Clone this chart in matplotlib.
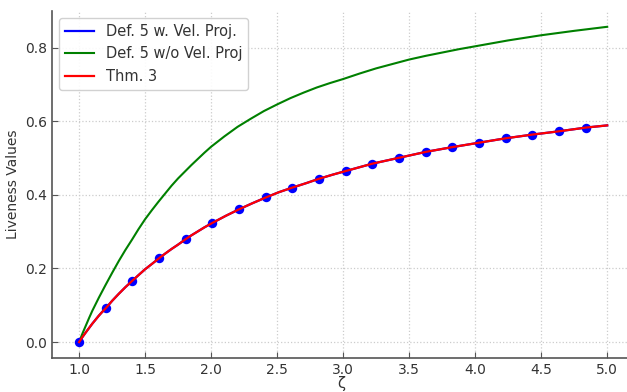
import matplotlib
matplotlib.use("Agg")
import matplotlib.pyplot as plt

# Sampled points (dots) for Def. 5 with velocity projection
zeta_dots = [1.000, 1.202, 1.404, 1.606, 1.808, 2.010, 2.212, 2.414, 2.616, 2.818,
             3.020, 3.222, 3.424, 3.626, 3.828, 4.030, 4.232, 4.434, 4.636, 4.838]
live_proj = [0.000, 0.092, 0.167, 0.228, 0.280, 0.324, 0.361, 0.393, 0.420, 0.444,
             0.465, 0.485, 0.501, 0.517, 0.530, 0.542, 0.554, 0.564, 0.573, 0.583]

# Thm. 3 curve
zeta_thm = [1.000, 1.025, 1.05, 1.075, 1.10, 1.125, 1.15, 1.175, 1.202, 1.25, 1.30, 1.35, 1.404,
            1.45, 1.50, 1.55, 1.606, 1.65, 1.70, 1.75, 1.808, 1.85, 1.90, 1.95, 2.010,
            2.11, 2.212, 2.31, 2.414, 2.51, 2.616, 2.72, 2.818, 2.92, 3.020, 3.222, 3.424,
            3.626, 3.828, 4.030, 4.232, 4.434, 4.636, 4.838, 5.000]
live_thm = [0.000, 0.0135, 0.026, 0.038, 0.050, 0.061, 0.072, 0.082, 0.092, 0.112, 0.131, 0.149, 0.167,
            0.182, 0.198, 0.212, 0.228, 0.240, 0.253, 0.265, 0.280, 0.290, 0.301, 0.312, 0.324,
            0.343, 0.361, 0.377, 0.393, 0.407, 0.420, 0.432, 0.444, 0.455, 0.465, 0.485, 0.501,
            0.517, 0.530, 0.542, 0.554, 0.564, 0.573, 0.583, 0.589]

# Def. 5 without velocity projection
zeta_noproj = [1.0, 1.025, 1.05, 1.075, 1.1, 1.125, 1.15, 1.175, 1.2, 1.25, 1.3, 1.35, 1.4, 1.45,
               1.5, 1.55, 1.6, 1.65, 1.7, 1.75, 1.8, 1.85, 1.9, 1.95, 2.0, 2.1, 2.2, 2.3, 2.4,
               2.5, 2.6, 2.7, 2.8, 2.9, 3.0, 3.125, 3.25, 3.375, 3.5, 3.625, 3.75, 3.875, 4.0,
               4.25, 4.5, 4.75, 5.0]
live_noproj = [0.000, 0.023, 0.044, 0.065, 0.085, 0.103, 0.121, 0.138, 0.155, 0.188, 0.220, 0.250,
               0.278, 0.307, 0.334, 0.358, 0.381, 0.403, 0.425, 0.445, 0.463, 0.481, 0.498, 0.515,
               0.531, 0.559, 0.585, 0.607, 0.628, 0.646, 0.663, 0.678, 0.692, 0.704, 0.715, 0.730,
               0.744, 0.756, 0.768, 0.778, 0.787, 0.796, 0.804, 0.820, 0.834, 0.846, 0.857]

plt.rcParams['font.family'] = ['DejaVu Sans']
fig = plt.figure(figsize=(6.27, 3.92), dpi=100)
ax = fig.add_axes([0.083, 0.087, 0.917, 0.885])

ax.plot(zeta_thm, live_thm, color='blue', lw=1.6, label='Def. 5 w. Vel. Proj.', zorder=2)
ax.scatter(zeta_dots, live_proj, color='blue', s=46, zorder=3, linewidths=0)
ax.plot(zeta_noproj, live_noproj, color='green', lw=1.5, label='Def. 5 w/o Vel. Proj', zorder=2)
ax.plot(zeta_thm, live_thm, color='red', lw=1.6, label='Thm. 3', zorder=4)

ax.set_xlim(0.795, 5.15)
ax.set_ylim(-0.043, 0.9)
ax.set_xticks([1.0, 1.5, 2.0, 2.5, 3.0, 3.5, 4.0, 4.5, 5.0])
ax.set_yticks([0.0, 0.2, 0.4, 0.6, 0.8])

ax.grid(True, linestyle=':', color='#cccccc', linewidth=0.9)
ax.set_axisbelow(True)
for s in ['top', 'right']:
    ax.spines[s].set_visible(False)
for s in ['left', 'bottom']:
    ax.spines[s].set_color('#555555')
    ax.spines[s].set_linewidth(1.2)
ax.tick_params(direction='in', colors='#555555', labelcolor='#333333', labelsize=10, length=4)

ax.set_xlabel('ζ', fontsize=10.5, color='#333333')
ax.xaxis.set_label_coords(0.503, -0.052)
ax.set_ylabel('Liveness Values', fontsize=10, color='#333333')

leg = ax.legend(loc='upper left', fontsize=10.5, frameon=True, framealpha=0.9)
leg.get_frame().set_edgecolor('#cccccc')
for t in leg.get_texts():
    t.set_color('#333333')

fig.savefig('out.png', dpi=100)
